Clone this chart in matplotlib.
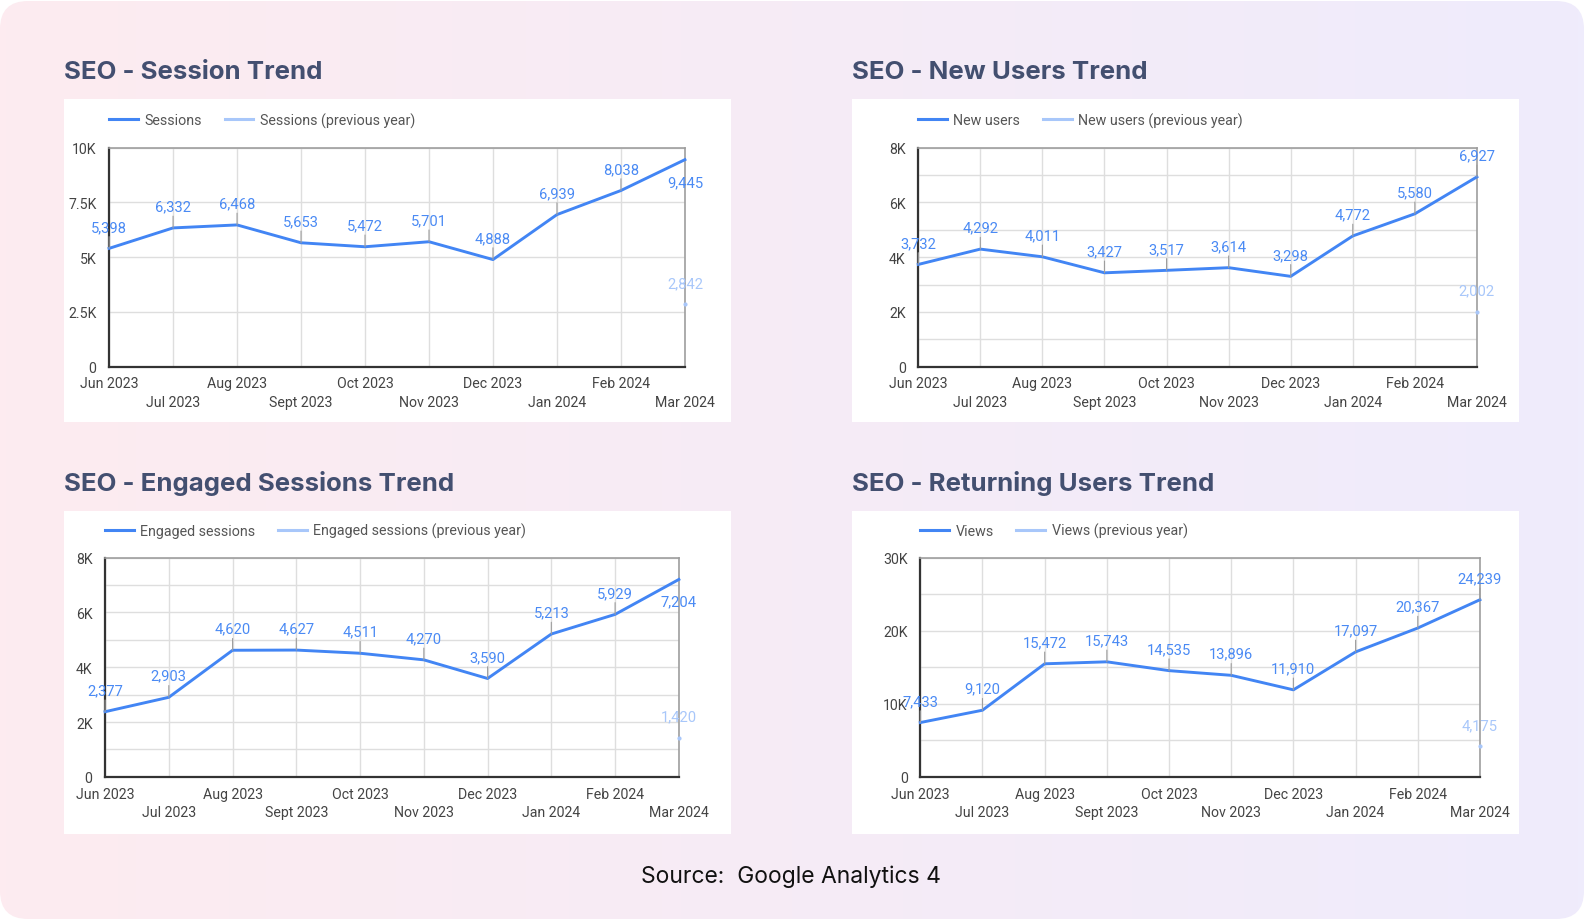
import numpy as np
import matplotlib
matplotlib.use('Agg')
import matplotlib.pyplot as plt
from matplotlib.patches import FancyBboxPatch, Rectangle
from matplotlib.ticker import MultipleLocator, FuncFormatter

# data
months = ['Jun 2023', 'Jul 2023', 'Aug 2023', 'Sept 2023', 'Oct 2023',
          'Nov 2023', 'Dec 2023', 'Jan 2024', 'Feb 2024', 'Mar 2024']

sessions = [5398, 6332, 6468, 5653, 5472, 5701, 4888, 6939, 8038, 9445]
sessions_prev = 2842

new_users = [3732, 4292, 4011, 3427, 3517, 3614, 3298, 4772, 5580, 6927]
new_users_prev = 2002

engaged = [2377, 2903, 4620, 4627, 4511, 4270, 3590, 5213, 5929, 7204]
engaged_prev = 1420

views = [7433, 9120, 15472, 15743, 14535, 13896, 11910, 17097, 20367, 24239]
views_prev = 4175

titles = ['SEO - Session Trend', 'SEO - New Users Trend',
          'SEO - Engaged Sessions Trend', 'SEO - Returning Users Trend']
series_names = ['Sessions', 'New users', 'Engaged sessions', 'Views']

BLUE = '#4285f4'
LABEL_BLUE = '#4a8af4'
LIGHT = '#a8c7fa'
TITLE_C = '#434f70'

W, H = 1584, 920
S = 1584 / 1568  # layout below was measured on a 1568 px wide view
fig = plt.figure(figsize=(W / 100, H / 100), dpi=100)

# background with rounded corners and a pink -> lavender gradient
bg = fig.add_axes([0, 0, 1, 1])
bg.set_xlim(0, W)
bg.set_ylim(0, H)
bg.axis('off')
grad = np.linspace(0, 1, 256)[None, :]
c0 = np.array([253, 235, 240]) / 255
c1 = np.array([239, 236, 252]) / 255
img = c0[None, None, :] * (1 - grad[..., None]) + c1[None, None, :] * grad[..., None]
im = bg.imshow(img, extent=[0, W, 0, H], aspect='auto', zorder=0)
clip = FancyBboxPatch((0, 0), W, H - 2, boxstyle='round,pad=0,rounding_size=28',
                      transform=bg.transData, facecolor='none', edgecolor='none')
bg.add_patch(clip)
im.set_clip_path(clip)


def fx(px):
    return px * S / W


def fy(py):
    return 1 - py * S / H


# (box x0, box y0, axes left, axes right, axes top, axes bottom) in pixels
layout = [
    (63, 99, 108, 678, 147, 364),
    (843, 99, 909, 1462, 147, 364),
    (63, 507, 104, 672, 553, 770),
    (843, 507, 911, 1465, 553, 770),
]
panels = [
    (sessions, sessions_prev, 10000, 2500, None),
    (new_users, new_users_prev, 8000, 2000, 1000),
    (engaged, engaged_prev, 8000, 2000, 1000),
    (views, views_prev, 30000, 10000, 5000),
]


def kfmt(v, pos):
    if v == 0:
        return '0'
    return f'{v / 1000:g}K'


x = np.arange(len(months))
xlabels = [m if i % 2 == 0 else '\n' + m for i, m in enumerate(months)]

for i, (lay, pan) in enumerate(zip(layout, panels)):
    bx, by, l, r, t, b = lay
    vals, prev, ymax, major, minor = pan

    # white card
    fig.patches.append(Rectangle((fx(bx), fy(by + 320)), fx(661), 320 * S / H,
                                 transform=fig.transFigure, facecolor='white',
                                 edgecolor='none', zorder=1))
    fig.text(fx(bx), fy(by - 21), titles[i], fontsize=18.6, fontweight='bold',
             family='Inter', color=TITLE_C, va='baseline', ha='left')

    ax = fig.add_axes([fx(l), fy(b), fx(r - l), (b - t) * S / H])
    ax.set_zorder(2)
    ax.set_xlim(0, len(months) - 1)
    ax.set_ylim(0, ymax)
    ax.yaxis.set_major_locator(MultipleLocator(major))
    if minor:
        ax.yaxis.set_minor_locator(MultipleLocator(minor))
    ax.yaxis.set_major_formatter(FuncFormatter(kfmt))
    ax.set_xticks(x)
    ax.set_xticklabels(xlabels, linespacing=1.4)
    ax.grid(which='both', color='#dedede', lw=1)
    ax.set_axisbelow(True)
    ax.tick_params(which='both', length=0, labelsize=10.2, colors='#444444')
    ax.tick_params(axis='y', pad=9)
    ax.tick_params(axis='x', pad=7)
    for lab in ax.get_xticklabels() + ax.get_yticklabels():
        lab.set_family('Roboto')
    for s in ['left', 'bottom']:
        ax.spines[s].set_color('#333333')
        ax.spines[s].set_linewidth(1.6)
    for s in ['top', 'right']:
        ax.spines[s].set_color('#9e9e9e')
        ax.spines[s].set_linewidth(1.2)

    ax.plot(x, vals, color=BLUE, lw=2.1, label=series_names[i], zorder=3,
            solid_joinstyle='round', clip_on=False)
    ax.plot([x[-1]], [prev], 'o', color=LIGHT, ms=2, zorder=3, clip_on=False,
            label=series_names[i] + ' (previous year)')

    for xi, v in zip(x, vals):
        if v / ymax > 0.885:
            ax.annotate(f'{v:,}', (xi, v), xytext=(0, -16), textcoords='offset points',
                        ha='center', va='center', fontsize=10.6, family='Roboto',
                        color=LABEL_BLUE, zorder=4, annotation_clip=False)
        else:
            ax.annotate(f'{v:,}', (xi, v), xytext=(0, 15.5), textcoords='offset points',
                        ha='center', va='center', fontsize=10.6, family='Roboto',
                        color=LABEL_BLUE, zorder=4, annotation_clip=False,
                        arrowprops=dict(arrowstyle='-', color='#9e9e9e', lw=0.8,
                                        shrinkA=0, shrinkB=0))
    ax.annotate(f'{prev:,}', (x[-1], prev), xytext=(0, 15.5), textcoords='offset points',
                ha='center', va='center', fontsize=10.6, family='Roboto',
                color=LIGHT, zorder=4, annotation_clip=False)

    leg = ax.legend(ncol=2, loc='center left', bbox_to_anchor=(0, 1 + 27 / (b - t)),
                    frameon=False, handlelength=2.0, handletextpad=0.45,
                    columnspacing=1.6, borderpad=0, borderaxespad=0,
                    prop={'family': 'Roboto', 'size': 10.3})
    for txt in leg.get_texts():
        txt.set_color('#555555')
    hs = leg.legend_handles
    hs[0].set_linewidth(2.2)
    hs[1].set_marker('')
    hs[1].set_linestyle('-')
    hs[1].set_linewidth(2.2)

fig.text(fx(783), fy(868), 'Source:  Google Analytics 4', fontsize=16.5, family='Inter',
         color='#111111', ha='center', va='center')

fig.savefig('out.png', dpi=100)
